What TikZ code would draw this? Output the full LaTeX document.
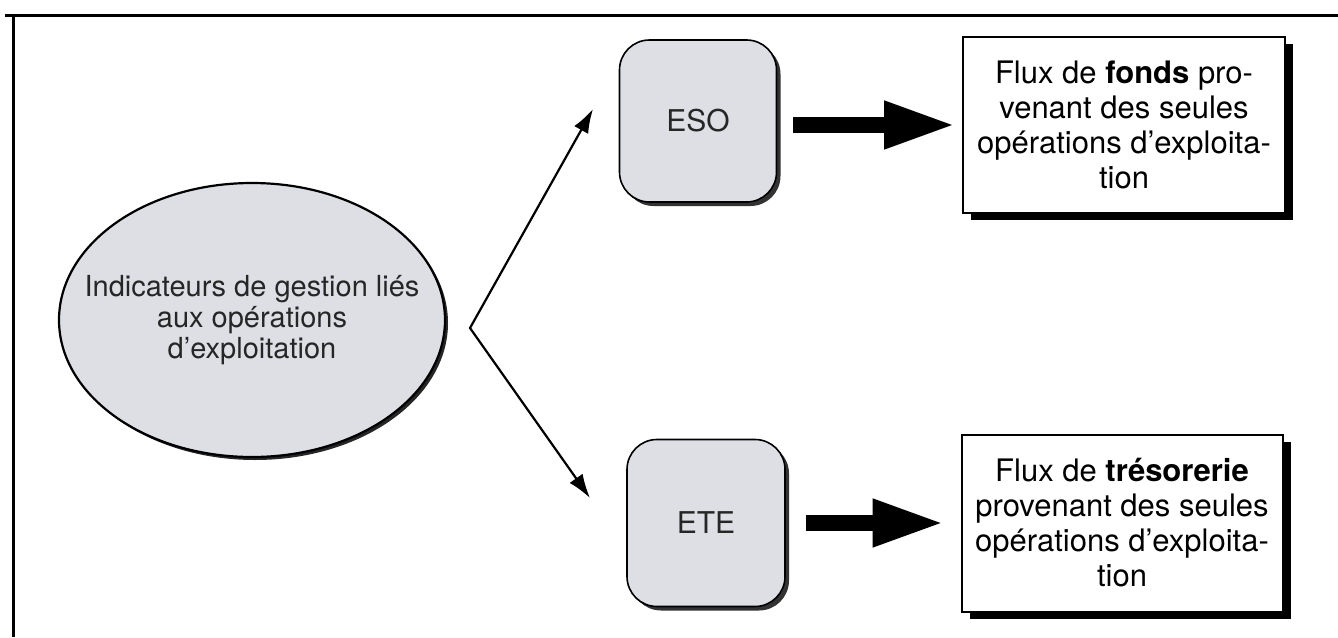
\documentclass[tikz,border=0pt]{standalone}
\usepackage{fontspec}
\setmainfont{TeX Gyre Heros}
\usetikzlibrary{arrows.meta,shapes.geometric,shadows}
\definecolor{boxgray}{RGB}{221,223,229}
\tikzset{every picture/.style={line width=0.75pt}}
\tikzset{
  bubble/.style={ellipse, draw, line width=2.2pt, fill=boxgray, text=black!85, align=center,
    font=\fontsize{29}{31}\selectfont, inner xsep=-31pt, inner ysep=0pt,
    drop shadow={shadow xshift=3pt, shadow yshift=-3pt, fill=black!85, opacity=1}},
  tag/.style={draw, rounded corners=30pt, line width=1.6pt, fill=boxgray, text=black!85,
    font=\fontsize{30}{32}\selectfont,
    drop shadow={shadow xshift=4pt, shadow yshift=-4pt, fill=black!80, opacity=1}},
  flux/.style={draw, line width=2pt, fill=white, align=center, inner sep=0pt,
    font=\fontsize{31}{35}\selectfont,
    drop shadow={shadow xshift=8pt, shadow yshift=-7pt, fill=black, opacity=1}},
  fork/.style={{Latex[length=24pt,width=16pt]}-{Latex[length=24pt,width=16pt]}, line width=2.2pt},
  fat/.style={-{Triangle[length=72pt,width=44pt]}, line width=16pt},
}
\begin{document}
\begin{tikzpicture}[x=1pt,y=1pt,yscale=-1,xscale=1]
    \useasboundingbox (0,0) rectangle (1338,637);
    % frame
    \draw [line width=3pt] (5,15) -- (1338,15) ;
    \draw [line width=3pt] (13,15) -- (13,637) ;
    % nodes
    \node [bubble, minimum width=386pt, minimum height=274pt] (ind) at (252,320) {Indicateurs de gestion liés\\aux opérations\\d'exploitation};
    \node [tag, minimum width=157pt, minimum height=162pt] (eso) at (698,121) {ESO};
    \node [tag, minimum width=158pt, minimum height=167pt] (ete) at (706,523) {ETE};
    \node [flux, minimum width=322pt, minimum height=176pt] (fonds) at (1124,125) {Flux de \textbf{fonds} pro-\\venant des seules\\opérations d'exploita-\\tion};
    \node [flux, minimum width=321pt, minimum height=177pt] (treso) at (1122,523) {Flux de \textbf{trésorerie}\\provenant des seules\\opérations d'exploita-\\tion};
    % arrows
    \coordinate (fk) at (470,328);
    \coordinate (up) at (593,109);
    \coordinate (dn) at (590,498);
    \draw [fork] (up) -- (fk) -- (dn) ;
    \draw [fat, shorten <=16pt, shorten >=6pt] (eso.east |- fonds.west) -- (fonds.west) ;
    \draw [fat, shorten <=20pt, shorten >=16pt] (ete.east |- treso.west) -- (treso.west) ;
\end{tikzpicture}
\end{document}
